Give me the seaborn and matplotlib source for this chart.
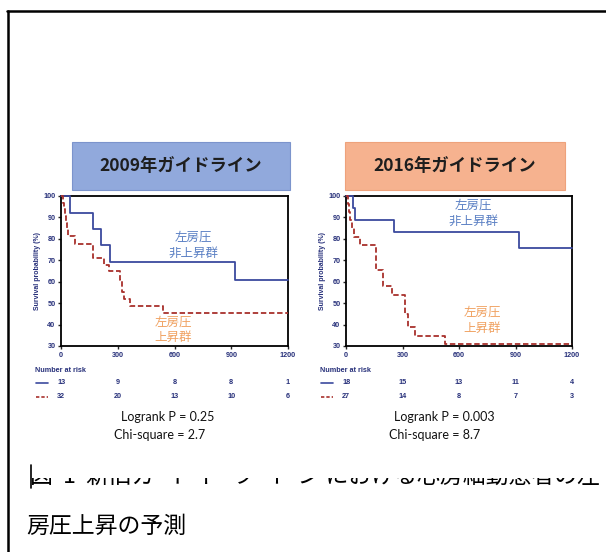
import matplotlib
matplotlib.use("Agg")
import matplotlib.pyplot as plt
import matplotlib.transforms as mtransforms
from matplotlib.patches import Rectangle
from matplotlib.lines import Line2D
import seaborn as sns
import pandas as pd

# ---------------- data ----------------
titles = ["2009年ガイドライン", "2016年ガイドライン"]

non_elev_t_09 = [0, 47, 167, 211, 259, 922, 1200]
non_elev_s_09 = [100, 92.3, 84.6, 76.9, 69.2, 60.6, 60.6]
elev_t_09 = [0, 8, 14, 20, 26, 32, 38, 74, 167, 227, 253, 312, 324, 333, 364, 537, 1200]
elev_s_09 = [100, 96.9, 93.8, 90.6, 87.5, 84.4, 81.2, 77.7, 71.2, 67.8, 65.0, 60.7, 55.2, 52.0, 48.6, 45.2, 45.2]

non_elev_t_16 = [0, 37, 46, 257, 917, 1200]
non_elev_s_16 = [100, 94.4, 88.9, 83.4, 75.7, 75.7]
elev_t_16 = [0, 9, 15, 22, 30, 40, 76, 159, 196, 243, 314, 328, 367, 526, 1200]
elev_s_16 = [100, 96.3, 92.6, 88.9, 85.2, 80.9, 77.3, 65.6, 57.8, 54.0, 45.0, 38.9, 34.7, 31.0, 31.0]

risk_times = [0, 300, 600, 900, 1200]
risk_non_09 = [13, 9, 8, 8, 1]
risk_elev_09 = [32, 20, 13, 10, 6]
risk_non_16 = [18, 15, 13, 11, 4]
risk_elev_16 = [27, 14, 8, 7, 3]

stats_09 = ["Logrank P = 0.25", "Chi-square = 2.7"]
stats_16 = ["Logrank P = 0.003", "Chi-square = 8.7"]

label_non = "左房圧\n非上昇群"
label_elev = "左房圧\n上昇群"
caption1 = "図  1  新旧ガ  イ  ド  ラ  イ  ン における心房細動患者の左"
caption2 = "房圧上昇の予測"

# ---------------- style ----------------
sns.set_style("ticks")
plt.rcParams["font.family"] = ["Liberation Sans", "Noto Sans CJK JP", "DejaVu Sans"]
CJK = ["Noto Sans CJK JP", "DejaVu Sans"]

W, H = 606, 552
fig = plt.figure(figsize=(W / 100, H / 100), dpi=100)
fig.patch.set_facecolor("white")

def fx(px):
    return px / W

def fy(py):
    return 1 - py / H

NAVY = "#27307a"
BLUE = "#3c4a9e"
RED = "#a8302c"
LBLUE = "#5b80c4"
ORANGE = "#f0a262"

panels = [
    dict(left=61, right=288, box=(72, 290, "#91a9dc", "#7c94cc"), title=titles[0],
         nt=non_elev_t_09, ns=non_elev_s_09, et=elev_t_09, es=elev_s_09,
         rn=risk_non_09, re=risk_elev_09, stats=stats_09, statx=(168, 160),
         lab_non=(699, 77), lab_elev=(593, 37.5)),
    dict(left=346, right=572, box=(345, 565, "#f6b28f", "#eea27c"), title=titles[1],
         nt=non_elev_t_16, ns=non_elev_s_16, et=elev_t_16, es=elev_s_16,
         rn=risk_non_16, re=risk_elev_16, stats=stats_16, statx=(444, 435),
         lab_non=(679, 92), lab_elev=(723, 42)),
]

top_px, bot_px = 196, 346
for p in panels:
    ax = fig.add_axes([fx(p["left"]), fy(bot_px), fx(p["right"] - p["left"]), (bot_px - top_px) / H])
    df_n = pd.DataFrame({"t": p["nt"], "s": p["ns"]})
    df_e = pd.DataFrame({"t": p["et"], "s": p["es"]})
    sns.lineplot(data=df_n, x="t", y="s", ax=ax, color=BLUE, lw=1.3,
                 drawstyle="steps-post", estimator=None, clip_on=False, zorder=5)
    sns.lineplot(data=df_e, x="t", y="s", ax=ax, color=RED, lw=1.3, linestyle=(0, (3, 1.5)),
                 drawstyle="steps-post", estimator=None, clip_on=False, zorder=5)
    ax.set_xlim(0, 1200)
    ax.set_ylim(30, 100)
    ax.set_xticks(risk_times)
    ax.set_yticks(range(30, 101, 10))
    ax.set_xlabel("")
    ax.set_ylabel("Survival probability (%)", fontsize=5, fontweight="bold", color=NAVY, labelpad=2)
    for s in ax.spines.values():
        s.set_linewidth(1.3)
        s.set_color("black")
    ax.tick_params(direction="out", length=2.5, width=1, labelsize=5.2, labelcolor=NAVY, pad=1.5)
    for lbl in ax.get_xticklabels() + ax.get_yticklabels():
        lbl.set_fontweight("bold")
    ax.text(p["lab_non"][0], p["lab_non"][1], label_non, color=LBLUE, fontsize=9,
            family=CJK, ha="center", va="center", linespacing=1.25)
    ax.text(p["lab_elev"][0], p["lab_elev"][1], label_elev, color=ORANGE, fontsize=9,
            family=CJK, ha="center", va="center", linespacing=1.25)

    # number at risk table
    tr = mtransforms.blended_transform_factory(ax.transData, fig.transFigure)
    fig.text(fx(p["left"] - 26), fy(371), "Number at risk", fontsize=5.2, fontweight="bold",
             color=NAVY, va="center", ha="left")
    for row_y, vals, col, ls in [(383, p["rn"], BLUE, "-"), (397, p["re"], RED, (0, (2, 1.2)))]:
        fig.add_artist(Line2D([fx(p["left"] - 25), fx(p["left"] - 13)], [fy(row_y), fy(row_y)],
                              color=col, lw=1.2, linestyle=ls))
        for i, (t, v) in enumerate(zip(risk_times, vals)):
            if i == 0:
                fig.text(fx(p["left"] - 4), fy(row_y), str(v), fontsize=5.2, fontweight="bold",
                         color=NAVY, va="center", ha="left")
            else:
                ax.text(t, fy(row_y), str(v), transform=tr, fontsize=5.2, fontweight="bold",
                        color=NAVY, va="center", ha="center")

    # title box
    x0, x1, fc, ec = p["box"]
    fig.add_artist(Rectangle((fx(x0), fy(190)), fx(x1 - x0), (190 - 142) / H,
                             facecolor=fc, edgecolor=ec, lw=0.8, transform=fig.transFigure))
    fig.text(fx((x0 + x1) / 2), fy(166), p["title"], fontsize=12.5, fontweight="bold",
             family=CJK, color="#1e1e1e", ha="center", va="center")

    # statistics
    fig.text(fx(p["statx"][0]), fy(417), p["stats"][0], fontsize=9, family=["Lato", "DejaVu Sans"],
             ha="center", va="center", color="#111111")
    fig.text(fx(p["statx"][1]), fy(435), p["stats"][1], fontsize=9, family=["Lato", "DejaVu Sans"],
             ha="center", va="center", color="#111111")

# frame border
fig.add_artist(Line2D([fx(7.5), fx(7.5)], [fy(11), 0], color="black", lw=1.8))
fig.add_artist(Line2D([fx(7), 1], [fy(11), fy(11)], color="black", lw=1.8))

# caption (first line: only its lower part is visible)
fig.text(fx(30), fy(476), caption1, fontsize=16.5, family=CJK, ha="left", va="center",
         color="black", zorder=3)
fig.add_artist(Rectangle((fx(12), fy(478)), fx(600), (478 - 455) / H, facecolor="white",
                         edgecolor="none", transform=fig.transFigure, zorder=4))
fig.add_artist(Line2D([fx(30.5), fx(30.5)], [fy(465), fy(488)], color="black", lw=1.2, zorder=5))
fig.text(fx(26), fy(526), caption2, fontsize=16.5, family=CJK, ha="left", va="center", color="black")

fig.savefig("out.png", dpi=100)
